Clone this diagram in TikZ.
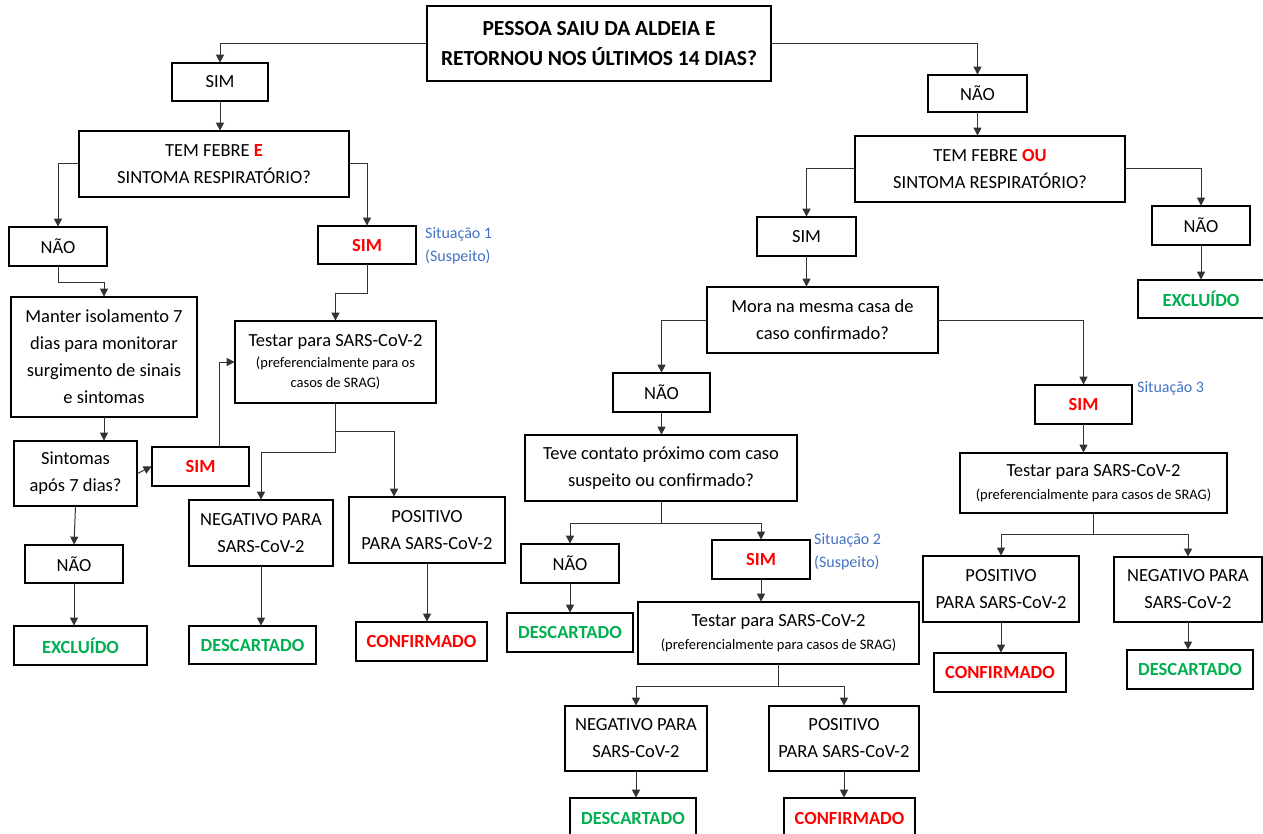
\documentclass[tikz,border=0pt]{standalone}
\usepackage{fontspec}
\setmainfont{Carlito}
\usetikzlibrary{arrows.meta}
\definecolor{vermelho}{HTML}{FF0000}
\definecolor{verde}{HTML}{00B050}
\definecolor{azul}{HTML}{4472C4}
\newcommand\pequeno{\fontsize{14.5}{20}\selectfont}

\begin{document}
\begin{tikzpicture}[x=1pt, y=-1pt, scale=0.5, every node/.style={scale=0.5}]
	\tikzstyle{box} = [draw=black, line width=0.75pt, align=center, inner sep=0pt, font=\fontsize{18.5}{27}\selectfont]
	\tikzstyle{sim} = [box, font=\fontsize{18.5}{27}\selectfont\bfseries, text=vermelho]
	\tikzstyle{fim} = [box, font=\fontsize{18.5}{27}\selectfont\bfseries, text=verde]
	\tikzstyle{situ} = [text=azul, align=left, inner sep=0pt, anchor=north west, font=\fontsize{16}{23}\selectfont]
	\tikzstyle{seta} = [draw=black!80, line width=0.5pt, -{Triangle[length=4pt,width=4pt]}]
	\useasboundingbox (0,0) rectangle (1263,834);
	
	\node[box, line width=1.4pt, minimum width=344, minimum height=75, font=\fontsize{21.5}{30}\selectfont\bfseries](topo) at (599,43.5){PESSOA SAIU DA ALDEIA E\\RETORNOU NOS ÚLTIMOS 14 DIAS?};
	
	% ramo SIM
	\node[box, minimum width=96, minimum height=38](sim0) at (220,82){SIM};
	\node[box, minimum width=270, minimum height=66](tf1) at (214,164){TEM FEBRE \textcolor{vermelho}{\textbf{E}}\\SINTOMA RESPIRATÓRIO?};
	\node[box, minimum width=98, minimum height=39](nao1) at (58,246.5){NÃO};
	\node[sim, minimum width=98, minimum height=38](sim1) at (367,245){SIM};
	\node[situ] (sit1) at (425,227){Situação 1\\(Suspeito)};
	\node[box, minimum width=186, minimum height=120](manter) at (104,357){Manter isolamento 7\\dias para monitorar\\surgimento de sinais\\e sintomas};
	\node[box, minimum width=201, minimum height=82](test1) at (335.5,362){Testar para SARS-CoV-2\\[-6pt]\pequeno (preferencialmente para os\\[-7pt]\pequeno casos de SRAG)};
	\node[box, minimum width=123, minimum height=65](sint) at (75.5,473.5){Sintomas\\após 7 dias?};
	\node[sim, minimum width=97, minimum height=39](sim2) at (200.5,466.5){SIM};
	\node[box, minimum width=98, minimum height=38](nao2) at (74,564){NÃO};
	\node[fim, minimum width=133, minimum height=39](excl1) at (80.5,645.5){EXCLUÍDO};
	\node[box, minimum width=144, minimum height=66](neg1) at (261,533){NEGATIVO PARA\\SARS-CoV-2};
	\node[box, minimum width=156, minimum height=66](pos1) at (427,530){POSITIVO\\PARA SARS-CoV-2};
	\node[fim, minimum width=127, minimum height=38](desc1) at (252.5,645){DESCARTADO};
	\node[sim, minimum width=131, minimum height=39](conf1) at (421.5,641.5){CONFIRMADO};
	
	% ramo NAO
	\node[box, minimum width=99, minimum height=37](nao0) at (977.5,93.5){NÃO};
	\node[box, minimum width=270, minimum height=66](tf2) at (990,169){TEM FEBRE \textcolor{vermelho}{\textbf{OU}}\\SINTOMA RESPIRATÓRIO?};
	\node[box, minimum width=99, minimum height=39](sim3) at (806.5,236.5){SIM};
	\node[box, minimum width=98, minimum height=39](nao3) at (1201,225.5){NÃO};
	\node[fim, minimum width=126, minimum height=38](excl2) at (1201,299){EXCLUÍDO};
	\node[box, minimum width=231, minimum height=66](mora) at (822.5,320){Mora na mesma casa de\\caso confirmado?};
	\node[box, minimum width=97, minimum height=39](nao4) at (661.5,392.5){NÃO};
	\node[sim, minimum width=97, minimum height=39](sim4) at (1083.5,404.5){SIM};
	\node[situ] (sit3) at (1137,381){Situação 3};
	\node[box, minimum width=272, minimum height=66](teve) at (661,468){Teve contato próximo com caso\\suspeito ou confirmado?};
	\node[box, minimum width=267, minimum height=60](test3) at (1093.5,483){Testar para SARS-CoV-2\\[-4pt]\pequeno (preferencialmente para casos de SRAG)};
	\node[box, minimum width=98, minimum height=39](nao5) at (570,563.5){NÃO};
	\node[sim, minimum width=98, minimum height=39](sim5) at (761,559.5){SIM};
	\node[situ] (sit2) at (814,533){Situação 2\\(Suspeito)};
	\node[fim, minimum width=126, minimum height=39](desc2) at (570,632.5){DESCARTADO};
	\node[box, minimum width=281, minimum height=62](test2) at (778.5,633){Testar para SARS-CoV-2\\[-4pt]\pequeno (preferencialmente para casos de SRAG)};
	\node[box, minimum width=156, minimum height=66](pos3) at (1001,589){POSITIVO\\PARA SARS-CoV-2};
	\node[box, minimum width=148, minimum height=65](neg3) at (1188,589.5){NEGATIVO PARA\\SARS-CoV-2};
	\node[sim, minimum width=132, minimum height=39](conf3) at (1000,672.5){CONFIRMADO};
	\node[fim, minimum width=126, minimum height=39](desc4) at (1190,669.5){DESCARTADO};
	\node[box, minimum width=142, minimum height=65](neg2) at (636,738.5){NEGATIVO PARA\\SARS-CoV-2};
	\node[box, minimum width=150, minimum height=65](pos2) at (844,738.5){POSITIVO\\PARA SARS-CoV-2};
	\node[fim, minimum width=126, minimum height=40](desc3) at (633,818){DESCARTADO};
	\node[sim, minimum width=131, minimum height=40](conf2) at (849.5,818){CONFIRMADO};
	
	% conexoes
	\draw[seta] (topo.west) -| (sim0.north);
	\draw[seta] (topo.east) -| (nao0.north);
	\draw[seta] (sim0.south) -- (sim0.south |- tf1.north);
	\draw[seta] (tf1.west) -| (nao1.north);
	\draw[seta] (tf1.east) -| (sim1.north);
	\draw[seta] (nao1.south) -- ++(0,16) -| (manter.north);
	\draw[seta] (sim1.south) -- ++(0,29) -| (test1.north);
	\draw[seta] (manter.south) -- (manter.south |- sint.north);
	\draw[seta] (sint.east) -- (sim2.west);
	\draw[seta] (sim2.north -| 219,0) |- (test1.west);
	\draw[seta] (sint.south) -- (nao2.north);
	\draw[seta] (nao2.south) -- (nao2.south |- excl1.north);
	\draw[seta] (test1.south) -- ++(0,28) -| (pos1.north -| 394,0);
	\draw[seta] (test1.south) -- ++(0,49) -| (neg1.north);
	\draw[seta] (neg1.south) -- (neg1.south |- desc1.north);
	\draw[seta] (pos1.south) -- (pos1.south |- conf1.north);
	
	\draw[seta] (nao0.south) -- (nao0.south |- tf2.north);
	\draw[seta] (tf2.west) -| (sim3.north);
	\draw[seta] (tf2.east) -| (nao3.north);
	\draw[seta] (nao3.south) -- (nao3.south |- excl2.north);
	\draw[seta] (sim3.south) -- (sim3.south |- mora.north);
	\draw[seta] (mora.west) -| (nao4.north);
	\draw[seta] (mora.east) -| (sim4.north);
	\draw[seta] (nao4.south) -- (nao4.south |- teve.north);
	\draw[seta] (teve.south) -- ++(0,22) -| (nao5.north);
	\draw[seta] (teve.south) -- ++(0,22) -| (sim5.north);
	\draw[seta] (nao5.south) -- (desc2.north);
	\draw[seta] (sim5.south) -- (sim5.south |- test2.north);
	\draw[seta] (test2.south) -- ++(0,22) -| (neg2.north);
	\draw[seta] (test2.south) -- ++(0,22) -| (pos2.north);
	\draw[seta] (neg2.south) -- (neg2.south |- desc3.north);
	\draw[seta] (pos2.south) -- (pos2.south |- conf2.north);
	\draw[seta] (sim4.south) -- (sim4.south |- test3.north);
	\draw[seta] (test3.south) -- ++(0,21) -| (pos3.north);
	\draw[seta] (test3.south) -- ++(0,21) -| (neg3.north);
	\draw[seta] (pos3.south) -- (pos3.south |- conf3.north);
	\draw[seta] (neg3.south) -- (neg3.south |- desc4.north);
\end{tikzpicture}
\end{document}
